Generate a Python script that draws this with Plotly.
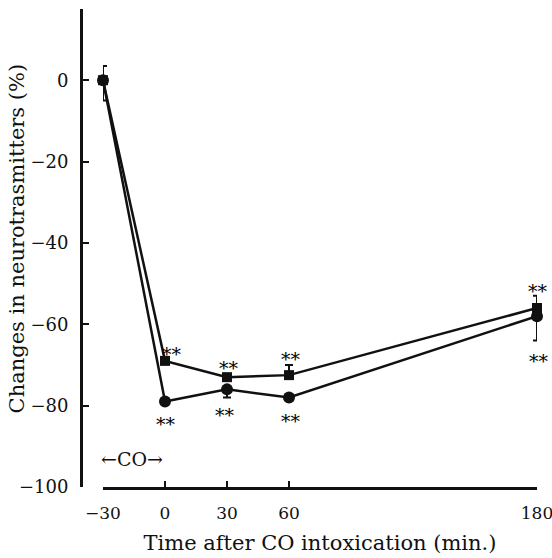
import plotly.graph_objects as go

# Sampling times (min relative to end of CO exposure)
time_min = [-30, 0, 30, 60, 180]

# Neurotransmitter changes (%) - circle series
circle_vals = [0, -79, -76, -78, -58]
circle_err_plus = [0, 0, 0, 0, 0]
circle_err_minus = [5, 0, 2, 0, 6]

# Neurotransmitter changes (%) - square series
square_vals = [0, -69, -73, -72.5, -56]
square_err_plus = [3.5, 0, 0, 2.5, 3]
square_err_minus = [0, 0, 0, 0, 0]

# Significance flags (indices of time points marked **)
signif_idx = [1, 2, 3, 4]

x_ticks = [-30, 0, 30, 60, 180]
y_ticks = [0, -20, -40, -60, -80, -100]

FONT = "DejaVu Serif"
BLACK = "#111111"

fig = go.Figure()

fig.add_trace(go.Scatter(
    x=time_min, y=circle_vals, mode="lines+markers",
    line=dict(color=BLACK, width=2.5),
    marker=dict(symbol="circle", size=12, color=BLACK),
    error_y=dict(type="data", symmetric=False, array=circle_err_plus,
                 arrayminus=circle_err_minus, color=BLACK, thickness=2, width=4),
    cliponaxis=False, showlegend=False,
))

fig.add_trace(go.Scatter(
    x=time_min, y=square_vals, mode="lines+markers",
    line=dict(color=BLACK, width=2.5),
    marker=dict(symbol="square", size=10, color=BLACK),
    error_y=dict(type="data", symmetric=False, array=square_err_plus,
                 arrayminus=square_err_minus, color=BLACK, thickness=2, width=4),
    cliponaxis=False, showlegend=False,
))

# ** markers: above the square series, below the circle series
square_star_shift = {1: (7, 12), 2: (2, 14), 3: (2, 21), 4: (1, 22)}
circle_star_shift = {1: (1, -17), 2: (-2, -21), 3: (2, -18), 4: (2, -40)}
for i in signif_idx:
    dx, dy = square_star_shift[i]
    fig.add_annotation(x=time_min[i], y=square_vals[i], text="**",
                       showarrow=False, xshift=dx, yshift=dy - 5,
                       font=dict(family=FONT, size=19, color="black"))
    dx, dy = circle_star_shift[i]
    fig.add_annotation(x=time_min[i], y=circle_vals[i], text="**",
                       showarrow=False, xshift=dx, yshift=dy - 5,
                       font=dict(family=FONT, size=19, color="black"))

# CO exposure period label
fig.add_annotation(x=(time_min[0] + time_min[1]) / 2, y=-93, text="←CO→",
                   showarrow=False, xshift=-2,
                   font=dict(family=FONT, size=19, color=BLACK))

# Vertical axis title, placed at the far left of the figure
fig.add_annotation(xref="paper", yref="paper", x=-64 / 456, y=0.52,
                   xanchor="center", yanchor="middle", textangle=-90,
                   text="Changes in neurotrasmitters (%)", showarrow=False,
                   font=dict(family=FONT, size=21, color=BLACK))

fig.update_layout(
    width=552, height=558,
    margin=dict(l=81, r=15, t=9, b=71),
    paper_bgcolor="white", plot_bgcolor="white",
    font=dict(family=FONT, size=17, color=BLACK),
    xaxis=dict(
        domain=[22 / 456, 1], range=[-30, 180], automargin=False,
        tickvals=x_ticks, ticktext=[("−30" if v < 0 else str(v)) for v in x_ticks],
        ticks="inside", ticklen=6, tickwidth=2, tickcolor=BLACK,
        showline=True, linewidth=2.5, linecolor=BLACK,
        showgrid=False, zeroline=False,
        ticklabelstandoff=9, ticklabeloverflow="allow",
        tickfont=dict(family=FONT, size=17, color=BLACK),
        title=dict(text="Time after CO intoxication (min.)", standoff=14,
                   font=dict(family=FONT, size=21, color=BLACK)),
    ),
    yaxis=dict(
        anchor="free", position=0, range=[-100, 17.5], automargin=False,
        tickvals=y_ticks, ticktext=[("−" + str(-v) if v < 0 else str(v)) for v in y_ticks],
        ticks="inside", ticklen=6, tickwidth=2, tickcolor=BLACK,
        showline=True, linewidth=3, linecolor=BLACK,
        showgrid=False, zeroline=False,
        ticklabelstandoff=8, ticklabeloverflow="allow",
        tickfont=dict(family=FONT, size=18, color=BLACK),
    ),
)

fig.write_html("out.html")
